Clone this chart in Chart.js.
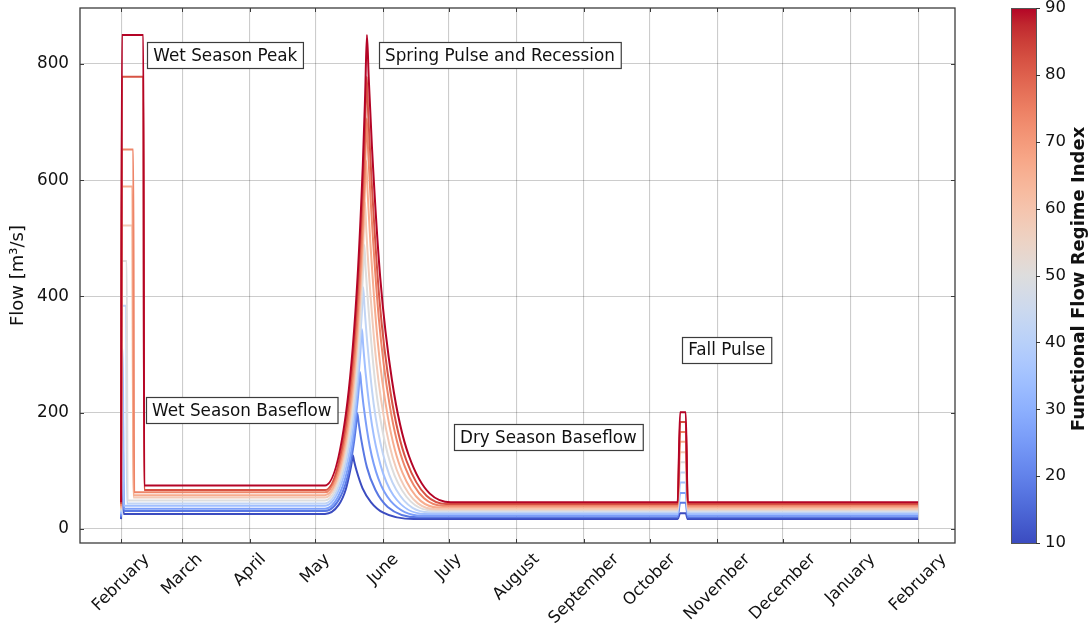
<!DOCTYPE html>
<html>
<head>
<meta charset="utf-8">
<script src="https://cdn.jsdelivr.net/npm/chart.js@4.4.1/dist/chart.umd.min.js"></script>
<style>
  html, body { margin: 0; padding: 0; background: #ffffff; }
  canvas { display: block; }
</style>
</head>
<body>
<canvas id="flowChart" width="1092" height="634"></canvas>
<script>
// Functional flow regime index of each hydrograph
const flowIndex = [10, 18, 26, 34, 42, 50, 58, 66, 74, 82, 90];

// Month ticks, in days after 1 February
const monthDays = [0, 28, 59, 89, 120, 150, 181, 212, 242, 273, 303, 334, 365];
const monthLabels = ['February', 'March', 'April', 'May', 'June', 'July', 'August',
  'September', 'October', 'November', 'December', 'January', 'February'];
const flowTicks = [0, 200, 400, 600, 800];
const colorbarTicks = [10, 20, 30, 40, 50, 60, 70, 80, 90];

// Hydrographs: [day after 1 Feb, flow in m3/s]
const hydrograph10 = [[0,17],[0.4,100],[0.8,100],[1.2,26],[93.4,26],[99.75,42],[102.9,68],[104.8,98],[105.6,114],[106.1,127],[106.7,117],[107.8,101],[110.6,70],[114.5,46],[120.1,28],[134,17],[254.9,17],[256,27],[258.6,27],[259.5,17],[365,17]];
const hydrograph18 = [[0,20],[0.4,170],[0.8,170],[1.2,31],[93.4,31],[100.8,58],[104.5,102],[106.7,150],[107.6,177],[108.2,199],[108.8,183],[109.9,156],[112.6,106],[116.5,67],[122.1,38],[136,20],[254.9,20],[256,45],[258.6,45],[259.5,20],[365,20]];
const hydrograph26 = [[0,23],[0.4,240],[0.8,240],[1.2,35],[93.4,35],[101.4,73],[105.4,134],[107.8,202],[108.8,239],[109.4,270],[110.0,248],[111.1,211],[113.9,142],[117.8,87],[123.5,48],[137.5,23],[254.9,23],[256,62],[258.6,62],[259.5,23],[365,23]];
const hydrograph34 = [[0,26],[0.4,310],[0.8,310],[1.2,40],[93.4,40],[101.85,89],[106.1,168],[108.6,256],[109.6,304],[110.3,344],[110.9,315],[112.0,268],[114.9,179],[118.9,109],[124.7,58],[139,26],[254.9,26],[256,80],[258.6,80],[259.5,26],[365,26]];
const hydrograph42 = [[0,29],[0.4,384],[2.3,384],[2.7,44],[93.4,44],[102.15,104],[106.5,200],[109.15,308],[110.2,368],[110.9,416],[111.5,381],[112.7,323],[115.7,215],[119.9,130],[125.95,68],[141,29],[254.9,29],[256,97],[258.6,97],[259.5,29],[365,29]];
const hydrograph50 = [[0,32],[0.4,461],[2.6,461],[3.0,49],[93.4,49],[102.4,119],[106.9,234],[109.6,361],[110.7,432],[111.4,489],[112.0,448],[113.3,379],[116.4,251],[120.7,151],[126.95,78],[142.5,32],[254.9,32],[256,115],[258.6,115],[259.5,32],[365,32]];
const hydrograph58 = [[0,34],[0.4,522],[5.2,522],[5.6,54],[93.4,54],[102.55,135],[107.1,267],[109.9,415],[111.0,496],[111.7,562],[112.3,514],[113.6,435],[116.9,287],[121.4,171],[127.85,87],[144,34],[254.9,34],[256,132],[258.6,132],[259.5,34],[365,34]];
const hydrograph66 = [[0,37],[0.4,589],[5.2,589],[5.6,58],[93.4,58],[102.8,150],[107.5,300],[110.3,467],[111.45,559],[112.2,634],[112.9,580],[114.2,491],[117.5,324],[122.2,192],[128.85,97],[145.5,37],[254.9,37],[256,150],[258.6,150],[259.5,37],[365,37]];
const hydrograph74 = [[0,40],[0.4,653],[5.6,653],[6.0,63],[93.4,63],[102.95,166],[107.7,333],[110.6,520],[111.75,622],[112.5,706],[113.2,646],[114.6,546],[118.1,360],[123.0,213],[130.0,107],[147.5,40],[254.9,40],[256,167],[258.6,167],[259.5,40],[365,40]];
const hydrograph82 = [[0,43],[0.4,778],[10.2,778],[10.6,67],[93.4,67],[102.95,181],[107.7,366],[110.6,572],[111.75,686],[112.5,778],[113.2,712],[114.7,602],[118.3,396],[123.45,234],[130.75,117],[149,43],[254.9,43],[256,184],[258.6,184],[259.5,43],[365,43]];
const hydrograph90 = [[0,46],[0.4,850],[10.2,850],[10.6,75],[93.4,75],[103.0,199],[107.8,401],[110.7,625],[111.8,749],[112.6,850],[113.4,778],[114.9,657],[118.7,432],[124.1,255],[131.8,126],[151,46],[254.9,46],[256,201],[258.6,201],[259.5,46],[365,46]];

const hydrographs = [hydrograph10, hydrograph18, hydrograph26, hydrograph34, hydrograph42,
  hydrograph50, hydrograph58, hydrograph66, hydrograph74, hydrograph82, hydrograph90];

// Text labels for the flow components, placed in data coordinates (left edge, middle)
const noteText = ['Wet Season Peak', 'Spring Pulse and Recession', 'Wet Season Baseflow',
  'Dry Season Baseflow', 'Fall Pulse'];
const noteDay = [14.8, 120.9, 14.2, 155.2, 259.7];
const noteFlow = [815, 815, 204, 158, 308];

// Diverging blue-white-red colour map (Moreland "cool to warm")
const coolwarmStops = [
  [59,76,192],[68,90,204],[77,104,215],[87,117,225],[98,130,234],[108,142,241],[119,154,247],
  [130,165,251],[141,176,254],[152,185,255],[163,194,255],[174,201,253],[184,208,249],
  [194,213,244],[204,217,238],[213,219,230],[221,221,221],[229,216,209],[236,211,197],
  [241,204,185],[245,196,173],[247,187,160],[247,177,148],[247,166,135],[244,154,123],
  [241,141,111],[236,127,99],[229,112,88],[222,96,77],[213,80,66],[203,62,56],[192,40,47],[180,4,38]
];
function coolwarm(t) {
  const n = coolwarmStops.length - 1;
  const p = Math.max(0, Math.min(1, t)) * n;
  const i = Math.min(n - 1, Math.floor(p));
  const f = p - i;
  const a = coolwarmStops[i], b = coolwarmStops[i + 1];
  const c = a.map((v, k) => Math.round(v + (b[k] - v) * f));
  return `rgb(${c[0]},${c[1]},${c[2]})`;
}
const cbMin = colorbarTicks[0], cbMax = colorbarTicks[colorbarTicks.length - 1];

const FONT = "'DejaVu Sans', 'Liberation Sans', sans-serif";
const TEXT = '#111111';
const GRID = 'rgba(0,0,0,0.2)';

const datasets = flowIndex.map((idx, i) => ({
  label: 'FFR index ' + idx,
  data: hydrographs[i],
  borderColor: coolwarm((idx - cbMin) / (cbMax - cbMin)),
  borderWidth: 2,
  pointRadius: 0,
  fill: false,
  cubicInterpolationMode: 'monotone',
  order: 100 - idx
}));

const decor = {
  id: 'decor',
  afterDraw(chart) {
    const { ctx, chartArea: a, scales: { x, y } } = chart;
    ctx.save();

    // plot frame
    ctx.strokeStyle = '#3c3c3c';
    ctx.lineWidth = 1.3;
    ctx.strokeRect(a.left, a.top, a.right - a.left, a.bottom - a.top);

    // inward tick marks on all four sides
    ctx.lineWidth = 1;
    ctx.beginPath();
    x.ticks.forEach(t => {
      const px = Math.round(x.getPixelForValue(t.value)) + 0.5;
      ctx.moveTo(px, a.bottom); ctx.lineTo(px, a.bottom - 4);
      ctx.moveTo(px, a.top); ctx.lineTo(px, a.top + 4);
    });
    y.ticks.forEach(t => {
      const py = Math.round(y.getPixelForValue(t.value)) + 0.5;
      ctx.moveTo(a.left, py); ctx.lineTo(a.left + 4, py);
      ctx.moveTo(a.right, py); ctx.lineTo(a.right - 4, py);
    });
    ctx.stroke();

    // month labels, rotated 45 degrees and centred under their ticks
    ctx.font = `16.5px ${FONT}`;
    ctx.fillStyle = TEXT;
    ctx.textAlign = 'center';
    ctx.textBaseline = 'middle';
    const lh = 19;
    monthDays.forEach((d, i) => {
      const w = ctx.measureText(monthLabels[i]).width;
      const half = (w + lh) * Math.SQRT1_2 / 2;
      const px = x.getPixelForValue(d);
      ctx.save();
      ctx.translate(px, a.bottom + 7 + half);
      ctx.rotate(-Math.PI / 4);
      ctx.fillText(monthLabels[i], 0, 0);
      ctx.restore();
    });

    // boxed notes naming the flow components
    ctx.font = `16.8px ${FONT}`;
    ctx.textAlign = 'left';
    ctx.textBaseline = 'middle';
    noteText.forEach((txt, i) => {
      const px = x.getPixelForValue(noteDay[i]);
      const py = y.getPixelForValue(noteFlow[i]);
      const w = ctx.measureText(txt).width;
      const bx = Math.round(px - 6) + 0.5, by = Math.round(py - 13) + 0.5;
      ctx.fillStyle = '#ffffff';
      ctx.fillRect(bx, by, w + 12, 26);
      ctx.strokeStyle = '#3c3c3c';
      ctx.lineWidth = 1.2;
      ctx.strokeRect(bx, by, w + 12, 26);
      ctx.fillStyle = TEXT;
      ctx.fillText(txt, px, py + 1);
    });

    // colour bar
    const cbL = 1011, cbW = 25, top = a.top, bot = a.bottom;
    const g = ctx.createLinearGradient(0, bot, 0, top);
    coolwarmStops.forEach((c, i) => g.addColorStop(i / (coolwarmStops.length - 1), `rgb(${c[0]},${c[1]},${c[2]})`));
    ctx.fillStyle = g;
    ctx.fillRect(cbL, top, cbW, bot - top);
    ctx.strokeStyle = '#555555';
    ctx.lineWidth = 1;
    ctx.strokeRect(cbL + 0.5, top + 0.5, cbW, bot - top);
    ctx.font = `16.5px ${FONT}`;
    ctx.fillStyle = TEXT;
    ctx.textAlign = 'left';
    ctx.textBaseline = 'middle';
    ctx.beginPath();
    colorbarTicks.forEach(v => {
      const py = bot - (v - cbMin) / (cbMax - cbMin) * (bot - top);
      ctx.moveTo(cbL + cbW, Math.round(py) + 0.5);
      ctx.lineTo(cbL + cbW + 4, Math.round(py) + 0.5);
      ctx.fillText(String(v), cbL + cbW + 9, py);
    });
    ctx.strokeStyle = '#333333';
    ctx.stroke();
    ctx.save();
    ctx.translate(1079, 279);
    ctx.rotate(-Math.PI / 2);
    ctx.textAlign = 'center';
    ctx.font = `bold 18px ${FONT}`;
    ctx.fillText('Functional Flow Regime Index', 0, 0);
    ctx.restore();

    ctx.restore();
  }
};

new Chart(document.getElementById('flowChart'), {
  type: 'line',
  data: { datasets },
  options: {
    responsive: false,
    devicePixelRatio: 1,
    animation: false,
    layout: { padding: { top: 8, right: 137, bottom: 0, left: 0 } },
    plugins: { legend: { display: false }, tooltip: { enabled: false } },
    scales: {
      x: {
        type: 'linear',
        min: -18.8,
        max: 381.9,
        afterBuildTicks: s => { s.ticks = monthDays.map(v => ({ value: v })); },
        afterFit: s => { s.height = 91; s.paddingLeft = 0; s.paddingRight = 0; },
        ticks: { display: false },
        grid: { color: GRID, lineWidth: 1.1, drawTicks: false },
        border: { display: false }
      },
      y: {
        type: 'linear',
        min: -24.1,
        max: 896.3,
        afterBuildTicks: s => { s.ticks = flowTicks.map(v => ({ value: v })); },
        afterFit: s => { s.width = 80; s.paddingTop = 0; s.paddingBottom = 0; },
        ticks: { font: { family: FONT, size: 16.8 }, color: TEXT, padding: 11 },
        grid: { color: GRID, lineWidth: 1.1, drawTicks: false },
        border: { display: false },
        title: { display: true, text: 'Flow [m³/s]', font: { family: FONT, size: 18 }, color: TEXT, padding: { top: 8, bottom: 0 } }
      }
    }
  },
  plugins: [decor]
});
</script>
</body>
</html>
